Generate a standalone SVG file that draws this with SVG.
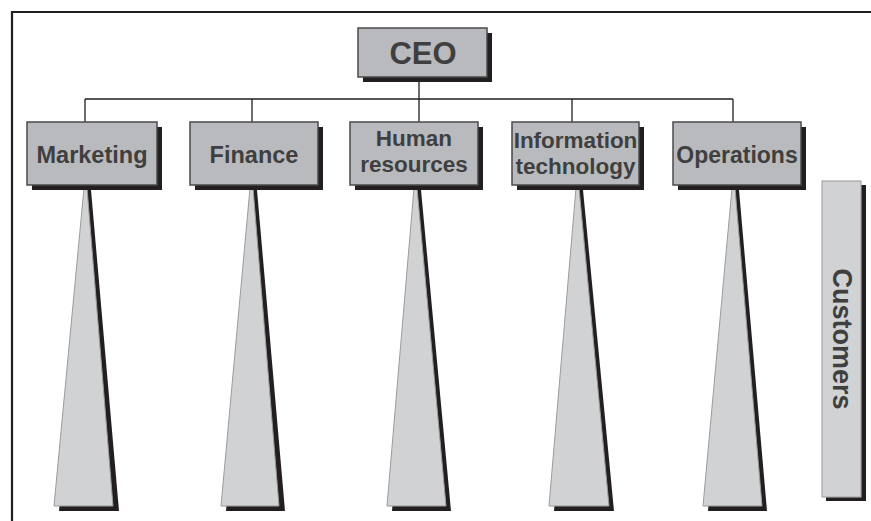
<svg xmlns="http://www.w3.org/2000/svg" width="871" height="521" viewBox="0 0 871 521">
<style>
.frame{stroke:#231f20;stroke-width:2.2;fill:none}
.shadow{fill:#231f20}
.box{fill:#b9babd;stroke:#4a4a4a;stroke-width:1.5}
.lbl{font-family:"Liberation Sans",Arial,sans-serif;font-weight:bold;fill:#3f3f40;text-anchor:middle}
.conn{stroke:#231f20;stroke-width:1.3;fill:none}
.wedge{fill:#d1d2d4;stroke:#9a9b9d;stroke-width:1}
.cust{fill:#d1d2d4;stroke:#a5a6a8;stroke-width:1.2}
</style>
<rect width="871" height="521" fill="#ffffff"/>
<path class="frame" d="M12,521 V12 H871"/>
<g id="connectors">
<path class="conn" d="M419,77 V99 M85,99 H733 M85,99 V122 M252,99 V122 M419,99 V122 M572,99 V122 M733,99 V122"/>
</g>
<g id="wedges">
<polygon class="shadow" points="87,190 91,190 119,511 59,511"/>
<polygon class="wedge" points="84,188 87,188 113,506 54,506"/>
<polygon class="shadow" points="253,190 257,190 285,511 226,511"/>
<polygon class="wedge" points="250,188 253,188 279,506 221,506"/>
<polygon class="shadow" points="417,190 421,190 451,511 392,511"/>
<polygon class="wedge" points="414,188 417,188 446,506 387,506"/>
<polygon class="shadow" points="579,190 583,190 614,511 554,511"/>
<polygon class="wedge" points="576,188 579,188 609,506 549,506"/>
<polygon class="shadow" points="735,190 739,190 767,511 708,511"/>
<polygon class="wedge" points="732,188 735,188 762,506 703,506"/>
</g>
<g id="ceo">
<rect class="shadow" x="363" y="33" width="129" height="49"/>
<rect class="box" x="358" y="28" width="129" height="49"/>
<text class="lbl" x="423" y="64" font-size="31">CEO</text>
</g>
<g id="marketing">
<rect class="shadow" x="32" y="127" width="130" height="63"/>
<rect class="box" x="27" y="122" width="130" height="63"/>
<text class="lbl" x="92" y="162.5" font-size="23.5">Marketing</text>
</g>
<g id="finance">
<rect class="shadow" x="195" y="127" width="128" height="63"/>
<rect class="box" x="190" y="122" width="128" height="63"/>
<text class="lbl" x="254" y="162.5" font-size="23.5">Finance</text>
</g>
<g id="human-resources">
<rect class="shadow" x="355" y="127" width="128" height="63"/>
<rect class="box" x="350" y="122" width="128" height="63"/>
<text class="lbl" x="414" y="146" font-size="22.5">Human</text>
<text class="lbl" x="414" y="172" font-size="22.5">resources</text>
</g>
<g id="information-technology">
<rect class="shadow" x="517" y="127" width="127" height="63"/>
<rect class="box" x="512" y="122" width="127" height="63"/>
<text class="lbl" x="575.5" y="148" font-size="22.5">Information</text>
<text class="lbl" x="575.5" y="174" font-size="22.5">technology</text>
</g>
<g id="operations">
<rect class="shadow" x="678" y="127" width="128" height="63"/>
<rect class="box" x="673" y="122" width="128" height="63"/>
<text class="lbl" x="737" y="162.5" font-size="23">Operations</text>
</g>
<g id="customers">
<rect class="shadow" x="826" y="185" width="40" height="316"/>
<rect class="cust" x="822" y="181" width="39" height="316"/>
<text class="lbl" transform="translate(832.5,339) rotate(90)" x="0" y="0" font-size="27">Customers</text>
</g>
</svg>
